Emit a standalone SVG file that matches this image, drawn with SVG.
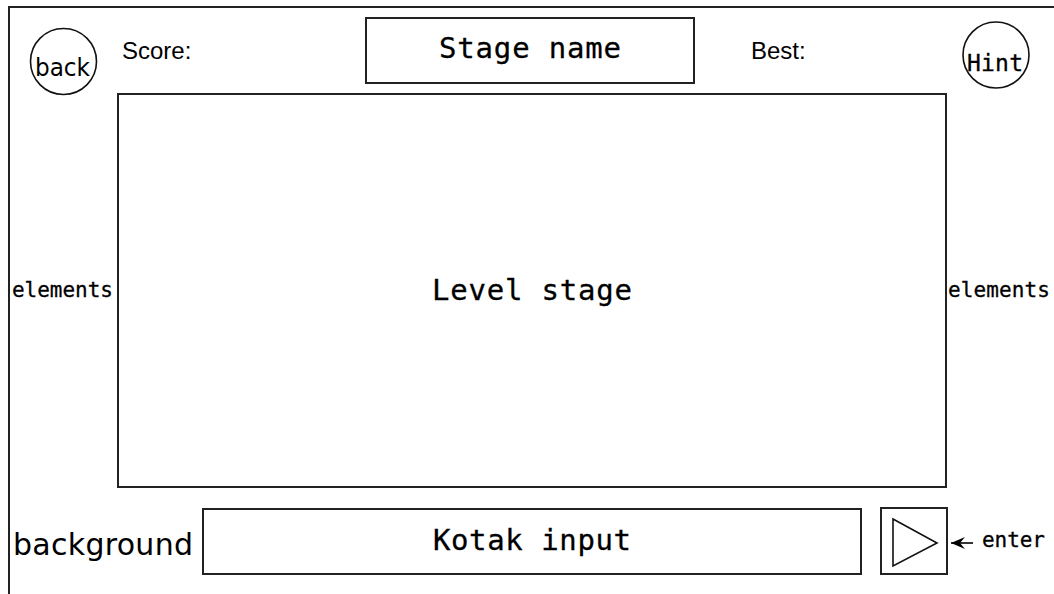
<svg xmlns="http://www.w3.org/2000/svg" width="1054" height="594" viewBox="0 0 1054 594">
<defs>
<style>
.box{fill:#fff;stroke:#222;stroke-width:2}
.circ{fill:#fff;stroke:#111;stroke-width:1.6}
.mono{font-family:"DejaVu Sans Mono","Liberation Mono",monospace;fill:#000;stroke:#000;stroke-width:0.3}
.sans{font-family:"Liberation Sans",Arial,sans-serif;fill:#000}
.dv{font-family:"DejaVu Sans","Noto Sans",sans-serif;fill:#000}
</style>
<marker id="ah" viewBox="0 0 14 12" refX="14" refY="6" markerWidth="14" markerHeight="12" markerUnits="userSpaceOnUse" orient="auto">
<path d="M0,0 L14,6 L0,12 L5,6 Z" fill="#000"/>
</marker>
</defs>
<rect width="1054" height="594" fill="#fff"/>
<g id="frame"><rect x="9" y="7" width="1060" height="600" fill="none" stroke="#222" stroke-width="2"/></g>
<g id="back"><circle class="circ" cx="63.5" cy="61.5" r="33"/><text class="dv" x="35" y="76" font-size="24" textLength="55" lengthAdjust="spacingAndGlyphs">back</text></g>
<g id="score"><text class="sans" x="122" y="59" font-size="24">Score:</text></g>
<g id="stagename"><rect class="box" x="366" y="18" width="328" height="65"/><text class="mono" x="530" y="58" font-size="29" text-anchor="middle" textLength="182" lengthAdjust="spacing">Stage name</text></g>
<g id="best"><text class="sans" x="751" y="59" font-size="24">Best:</text></g>
<g id="hint"><circle class="circ" cx="996" cy="55" r="33"/><text class="mono" x="967" y="71" font-size="23" textLength="56" lengthAdjust="spacing">Hint</text></g>
<g id="levelstage"><rect class="box" x="118" y="94" width="828" height="393"/><text class="mono" x="532" y="300" font-size="29" text-anchor="middle" textLength="200" lengthAdjust="spacing">Level stage</text></g>
<g id="elements-left"><text class="mono" x="12" y="297" font-size="21" textLength="101" lengthAdjust="spacing">elements</text></g>
<g id="elements-right"><text class="mono" x="948" y="297" font-size="21" textLength="102" lengthAdjust="spacing">elements</text></g>
<g id="background"><text class="dv" x="13" y="555" font-size="30" textLength="180" lengthAdjust="spacing">background</text></g>
<g id="kotak"><rect class="box" x="203" y="509" width="658" height="65"/><text class="mono" x="532" y="550" font-size="29" text-anchor="middle" textLength="198" lengthAdjust="spacing">Kotak input</text></g>
<g id="enterbtn"><rect class="box" x="881" y="508" width="66" height="66"/><polygon points="893,519 937,543 893,566" fill="#fff" stroke="#111" stroke-width="1.6"/></g>
<g id="enter"><text class="mono" x="982" y="547" font-size="21" textLength="63" lengthAdjust="spacing">enter</text></g>
<g id="connectors"><line x1="973" y1="543" x2="951" y2="543" stroke="#000" stroke-width="1.6" marker-end="url(#ah)"/></g>
</svg>
